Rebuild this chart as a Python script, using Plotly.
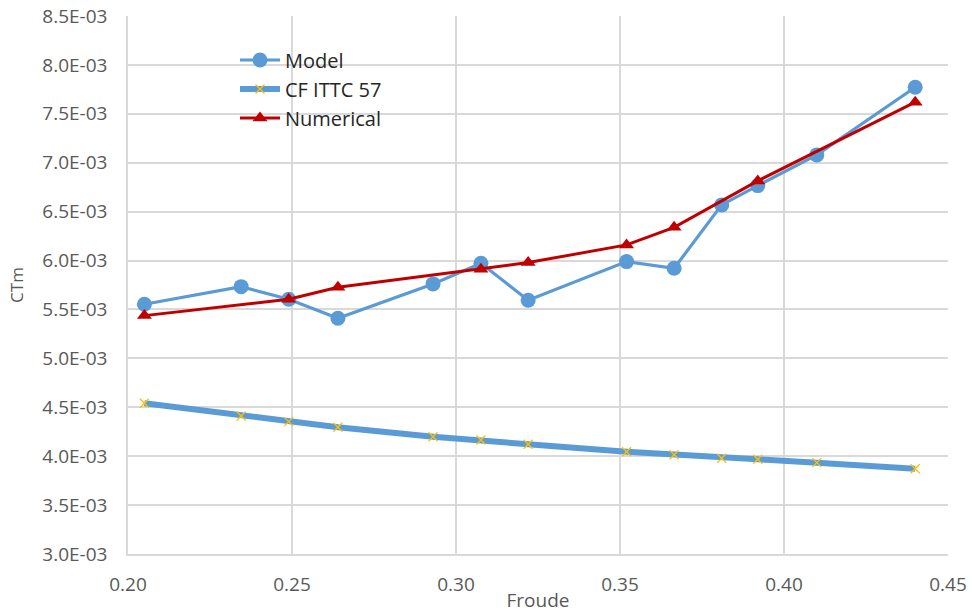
import plotly.graph_objects as go

froude = [0.205, 0.2345, 0.249, 0.264, 0.293, 0.3076, 0.322, 0.352, 0.3665, 0.381, 0.392, 0.410, 0.440]
model = [5.553e-3, 5.733e-3, 5.604e-3, 5.41e-3, 5.761e-3, 5.972e-3, 5.594e-3, 5.989e-3, 5.921e-3, 6.569e-3, 6.766e-3, 7.08e-3, 7.772e-3]
cf_ittc = [4.541e-3, 4.411e-3, 4.353e-3, 4.296e-3, 4.199e-3, 4.166e-3, 4.122e-3, 4.046e-3, 4.015e-3, 3.979e-3, 3.968e-3, 3.934e-3, 3.872e-3]
num_froude = [0.205, 0.249, 0.264, 0.3076, 0.322, 0.352, 0.3665, 0.392, 0.440]
numerical = [5.437e-3, 5.604e-3, 5.727e-3, 5.911e-3, 5.979e-3, 6.16e-3, 6.34e-3, 6.814e-3, 7.619e-3]

y_ticks = [3.0e-3 + 0.5e-3 * i for i in range(12)]
y_ticktext = ["%.1fE-03" % (v * 1000) for v in y_ticks]
x_ticks = [0.20, 0.25, 0.30, 0.35, 0.40, 0.45]
x_ticktext = ["0.20", "0.25", "0.30", "0.35", "0.40", "0.45"]

BLUE = "#5B9BD5"
RED = "#C00000"
GOLD = "#FFC000"
GRID = "#D9D9D9"
TXT = "#595959"
FONT = "Open Sans"

fig = go.Figure()
fig.add_trace(go.Scatter(
    x=froude, y=model, name="Model", mode="lines+markers",
    line=dict(color=BLUE, width=3.2),
    marker=dict(symbol="circle", size=15, color=BLUE),
))
fig.add_trace(go.Scatter(
    x=froude, y=cf_ittc, name="CF ITTC 57", mode="lines+markers",
    line=dict(color=BLUE, width=6),
    marker=dict(symbol="x-thin", size=9, color=GOLD, line=dict(color=GOLD, width=1.3)),
))
fig.add_trace(go.Scatter(
    x=num_froude, y=numerical, name="Numerical", mode="lines+markers",
    line=dict(color=RED, width=3),
    marker=dict(symbol="triangle-up", size=13, color=RED),
))

fig.update_layout(
    width=972, height=613,
    margin=dict(l=128, r=24, t=16, b=59),
    paper_bgcolor="white", plot_bgcolor="white",
    font=dict(family=FONT, color=TXT, size=19),
    showlegend=True,
    legend=dict(
        x=(235 - 128) / 820, y=(554 - 41) / 537.5, xanchor="left", yanchor="top",
        bgcolor="rgba(0,0,0,0)",
        font=dict(family=FONT, size=20, color="#262626"),
        itemwidth=40, tracegroupgap=0,
    ),
    shapes=[dict(
        type="rect", xref="paper", yref="paper", layer="between",
        x0=(157 - 128) / 820, x1=(460 - 128) / 820,
        y0=(554 - 132) / 537.5, y1=(554 - 45) / 537.5,
        fillcolor="white", line=dict(width=0),
    )],
)
fig.update_xaxes(
    range=[0.20, 0.45], tickvals=x_ticks, ticktext=x_ticktext,
    showgrid=True, gridcolor=GRID, gridwidth=1.5,
    showline=True, linecolor=GRID, linewidth=1.5, mirror=False,
    zeroline=False, ticks="", ticklabelstandoff=12, automargin=False,
    tickfont=dict(size=19, color=TXT),
    title=dict(text="Froude", font=dict(size=19, color=TXT), standoff=0),
)
fig.update_yaxes(
    range=[3.0e-3, 8.5e-3], tickvals=y_ticks, ticktext=y_ticktext,
    showgrid=True, gridcolor=GRID, gridwidth=1.5,
    showline=True, linecolor=GRID, linewidth=1.5,
    zeroline=False, ticks="", ticklabelstandoff=15, automargin=False,
    tickfont=dict(size=19, color=TXT),
    title=dict(text="CTm", font=dict(size=17, color=TXT), standoff=14),
)

fig.write_html("out.html", config={"displayModeBar": False},
               post_script="document.body.style.margin='0px';")
